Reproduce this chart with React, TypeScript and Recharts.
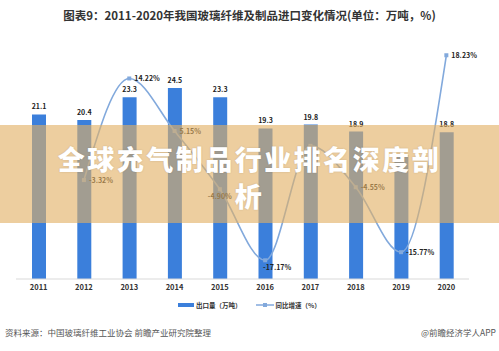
import { Bar, ComposedChart, LabelList, Line, XAxis, YAxis } from "recharts";

const years = ["2011", "2012", "2013", "2014", "2015", "2016", "2017", "2018", "2019", "2020"];
const volume = [21.1, 20.4, 23.3, 24.5, 23.3, 19.3, 19.8, 18.9, 15.9, 18.8];
const growth: (number | null)[] = [null, -3.32, 14.22, 5.15, -4.9, -17.17, 2.59, -4.55, -15.77, 18.23];

const data = years.map((y, i) => ({ year: y, volume: volume[i], growth: growth[i] }));

const FONT = "'Noto Sans CJK SC', 'Noto Sans', sans-serif";
const BLUE = "#3b7fdb";
const LINE = "#82a9dc";

// labels that sit under the banner text in the original and cannot be seen
const hiddenBar = [8];
const hiddenGrowth = [6];

const VolumeLabel = (p: any) => {
  if (hiddenBar.includes(p.index)) return null;
  return (
    <text x={p.x + p.width / 2} y={p.y - 5} fontSize={7} fontWeight={700} fill="#222" textAnchor="middle" fontFamily={FONT}>
      {p.value}
    </text>
  );
};

const GrowthLabel = (p: any) => {
  if (p.value == null || hiddenGrowth.includes(p.index)) return null;
  const below = p.index === 4 || p.index === 5;
  const x = below ? p.x + (p.index === 5 ? 12 : 0) : p.x + 5;
  const y = below ? p.y + 10 : p.y + 3;
  return (
    <text x={x} y={y} fontSize={7} fontWeight={700} fill="#222" textAnchor={below ? "middle" : "start"} fontFamily={FONT}>
      {p.value.toFixed(2)}%
    </text>
  );
};

const SquareDot = (p: any) => {
  if (p.cx == null || p.cy == null || p.value == null) return <g key={p.index} />;
  return <rect key={p.index} x={p.cx - 2} y={p.cy - 2} width={4} height={4} fill={LINE} />;
};

export default function App() {
  return (
    <div style={{ position: "absolute", left: 0, top: 0, width: 499, height: 351, background: "#fff", fontFamily: FONT, overflow: "hidden" }}>
      <div style={{ position: "absolute", top: 7, width: 499, textAlign: "center", fontSize: 11.5, fontWeight: 700, color: "#333" }}>
        图表9：2011-2020年我国玻璃纤维及制品进口变化情况(单位：万吨，%)
      </div>
      <div style={{ position: "absolute", left: 0, top: 0 }}>
        <ComposedChart width={499} height={300} data={data} margin={{ top: 45, right: 30, bottom: 1, left: 16 }}>
          <XAxis dataKey="year" height={20} tickLine={false} axisLine={{ stroke: "#d9d9d9" }}
            tick={{ fontSize: 7.5, fontWeight: 700, fill: "#333", fontFamily: FONT }} tickSize={4} />
          <YAxis yAxisId="v" hide domain={[0, 30]} />
          <YAxis yAxisId="g" hide orientation="right" domain={[-20.4, 20]} />
          <Bar yAxisId="v" dataKey="volume" fill={BLUE} barSize={14} isAnimationActive={false}>
            <LabelList dataKey="volume" content={VolumeLabel} />
          </Bar>
          <Line yAxisId="g" dataKey="growth" type="monotone" stroke={LINE} strokeWidth={1.6} dot={SquareDot}
            connectNulls isAnimationActive={false}>
            <LabelList dataKey="growth" content={GrowthLabel} />
          </Line>
        </ComposedChart>
      </div>
      <div style={{ position: "absolute", top: 300, left: 0, width: 499, display: "flex", justifyContent: "center", gap: 14, fontSize: 6.5, fontWeight: 700, color: "#333" }}>
        <span style={{ display: "flex", alignItems: "center", gap: 2 }}>
          <span style={{ display: "inline-block", width: 16, height: 4, background: BLUE }} />出口量（万吨）
        </span>
        <span style={{ display: "flex", alignItems: "center", gap: 2 }}>
          <svg width={18} height={6}>
            <line x1={0} y1={3} x2={18} y2={3} stroke={LINE} strokeWidth={1.5} />
            <rect x={7} y={1} width={4} height={4} fill={LINE} />
          </svg>同比增速（%）
        </span>
      </div>
      <div style={{ position: "absolute", top: 326, left: 5, fontSize: 8.5, color: "#555" }}>
        资料来源：中国玻璃纤维工业协会 前瞻产业研究院整理
      </div>
      <div style={{ position: "absolute", top: 326, right: 3, fontSize: 8.5, color: "#555" }}>
        @前瞻经济学人APP
      </div>
      <div style={{ position: "absolute", left: 0, top: 125, width: 499, height: 98, background: "rgba(226,176,100,0.62)",
        color: "#fff", fontWeight: 900, fontSize: 27, lineHeight: "37px", textAlign: "center", paddingTop: 15, boxSizing: "border-box",
        letterSpacing: 2.5, textShadow: "0 0 2px rgba(0,0,0,0.15)" }}>
        全球充气制品行业排名深度剖<br />析
      </div>
    </div>
  );
}
